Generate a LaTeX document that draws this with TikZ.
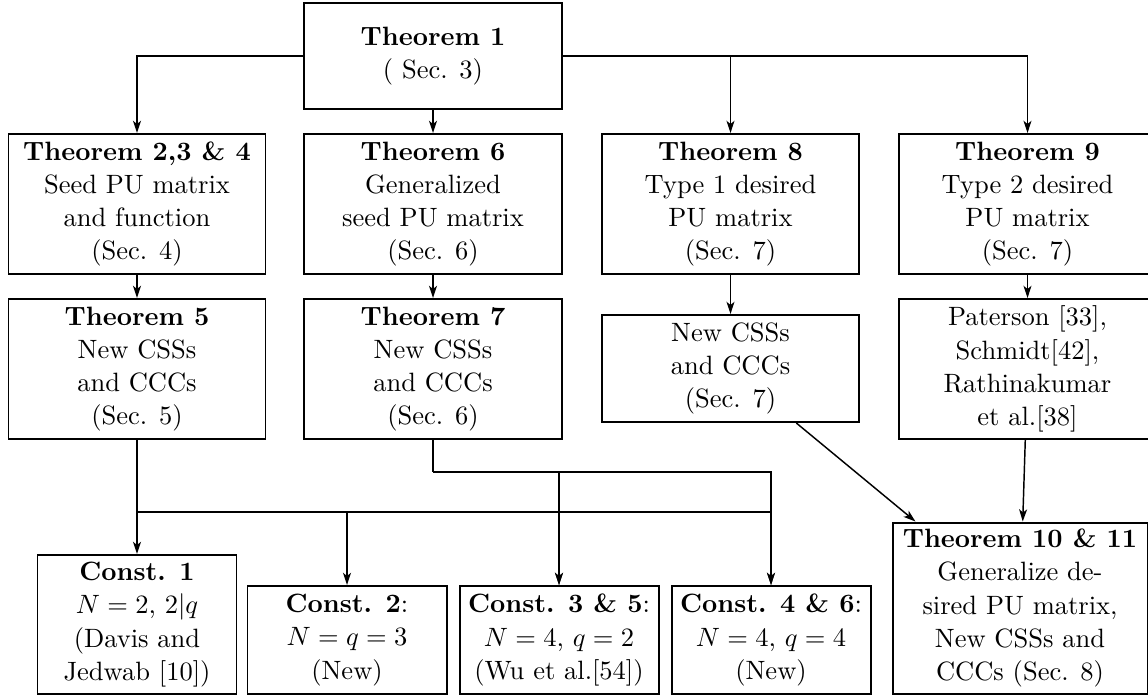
\documentclass[tikz,border=0pt]{standalone}
\usetikzlibrary{arrows.meta}
\begin{document}
\begin{tikzpicture}[x=0.3774pt,y=-0.3774pt,
  box/.style 2 args={draw,line width=0.75pt,inner sep=0pt,align=center,
    font=\fontsize{10pt}{12.5pt}\selectfont,
    minimum width=#1*0.3774pt,minimum height=#2*0.3774pt},
  conn/.style={line width=0.55pt,-{Stealth[length=4.6pt,width=3pt,inset=1.2pt]}},
  plain/.style={line width=0.55pt}]
\clip (0,0) rectangle (1148,696);
% row 1
\node[box={258}{106}] (t1) at (433,56) {\textbf{Theorem 1}\\( Sec. 3)};
% row 2
\node[box={257}{140}] (t2) at (137,204) {\textbf{Theorem 2,3 \& 4}\\Seed PU matrix\\and function\\(Sec. 4)};
\node[box={258}{140}] (t6) at (433,204) {\textbf{Theorem 6}\\Generalized\\seed PU matrix\\(Sec. 6)};
\node[box={257.5}{140}] (t8) at (730.5,204) {\textbf{Theorem 8}\\Type 1 desired\\PU matrix\\(Sec. 7)};
\node[box={257}{140}] (t9) at (1027.5,204) {\textbf{Theorem 9}\\Type 2 desired\\PU matrix\\(Sec. 7)};
% row 3
\node[box={257}{140}] (t5) at (137,369) {\textbf{Theorem 5}\\New CSSs\\and CCCs\\(Sec. 5)};
\node[box={258}{140}] (t7) at (433,369) {\textbf{Theorem 7}\\New CSSs\\and CCCs\\(Sec. 6)};
\node[box={257.5}{107}] (s7) at (730.5,368.5) {New CSSs\\and CCCs\\(Sec. 7)};
\node[box={257}{140}] (pat) at (1027.5,369) {Paterson [33],\\Schmidt[42],\\Rathinakumar\\et al.[38]};
% row 4
\node[box={199}{139}] (c1) at (137,624.5) {\textbf{Const. 1}\\$N=2$, $2|q$\\(Davis and\\Jedwab [10])};
\node[box={199}{108}] (c2) at (347,640) {\textbf{Const. 2}:\\$N=q=3$\\(New)};
\node[box={199}{108}] (c3) at (559,640) {\textbf{Const. 3 \& 5}:\\$N=4$, $q=2$\\(Wu et al.[54])};
\node[box={199}{108}] (c4) at (771,640) {\textbf{Const. 4 \& 6}:\\$N=4$, $q=4$\\(New)};
\node[box={255}{171}] (t10) at (1020,608) {\textbf{Theorem 10 \& 11}\\Generalize de-\\sired PU matrix,\\New CSSs and\\CCCs (Sec. 8)};
% connectors from Theorem 1
\draw[conn] (t1.west) -| (t2.north);
\draw[conn] (t1.south) -- (t6.north);
\draw[conn] (t1.east) -| (t8.north);
\draw[conn] (t1.east) -| (t9.north);
% vertical links
\draw[conn] (t2.south) -- (t5.north);
\draw[conn] (t6.south) -- (t7.north);
\draw[conn] (t8.south) -- (s7.north);
\draw[conn] (t9.south) -- (pat.north);
% buses
\coordinate (b1) at (137,512);
\coordinate (b2) at (433,472);
\draw[plain] (t5.south) -- (b1);
\draw[conn] (b1) -- (c1.north);
\draw[conn] (b1) -| (c2.north);
\draw[conn] (b1) -| (c3.north);
\draw[conn] (b1) -| (c4.north);
\draw[plain] (t7.south) -- (b2);
\draw[conn] (b2) -| (c3.north);
\draw[conn] (b2) -| (c4.north);
% to Theorem 10 & 11
\draw[conn] (s7) -- (t10);
\draw[conn] (pat) -- (t10);
\end{tikzpicture}
\end{document}
